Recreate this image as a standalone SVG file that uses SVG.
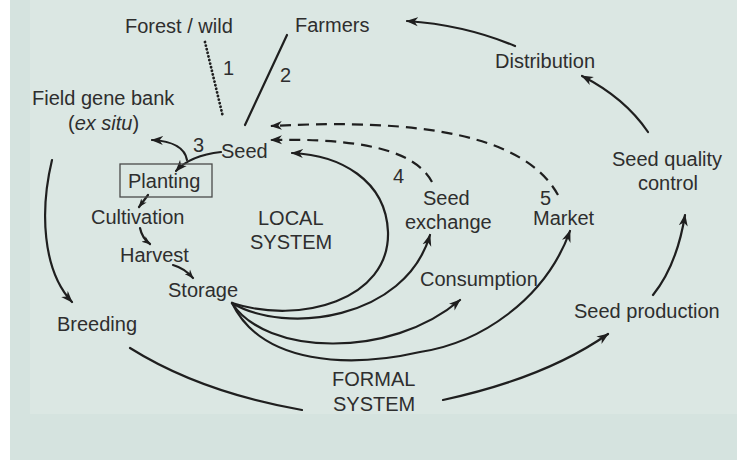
<svg xmlns="http://www.w3.org/2000/svg" width="737" height="460" viewBox="0 0 737 460">
  <style>
    .lbl { font-family: "Liberation Sans", Arial, sans-serif; font-size: 20px; fill: #2e2e2e; }
    .ln { fill: none; stroke: #1f1f1f; stroke-width: 2.2; stroke-linecap: round; }
    .dash { stroke-dasharray: 11 7; stroke-linecap: butt; }
    .dot { stroke-dasharray: 0.1 3.6; stroke-width: 2.8; }
    .box { fill: none; stroke: #4a4a4a; stroke-width: 1.3; }
  </style>
  <defs>
    <marker id="head" viewBox="0 0 12 10" refX="11" refY="5" markerUnits="userSpaceOnUse" markerWidth="12" markerHeight="10" orient="auto">
      <path d="M0,0.5 L12,5 L0,9.5 L3.5,5 Z" fill="#1f1f1f"/>
    </marker>
    <marker id="headS" viewBox="0 0 12 10" refX="11" refY="5" markerUnits="userSpaceOnUse" markerWidth="9" markerHeight="8" orient="auto">
      <path d="M0,0.5 L12,5 L0,9.5 L3.5,5 Z" fill="#1f1f1f"/>
    </marker>
  </defs>

  <!-- paper -->
  <rect x="0" y="0" width="737" height="460" fill="#ffffff"/>
  <rect x="10" y="0" width="727" height="460" fill="#d5e3df"/>
  <rect x="30" y="0" width="707" height="414" fill="#dbe7e3"/>

  <!-- connectors -->
  <g id="connectors">
    <!-- sources into seed -->
    <path class="ln dot" d="M205,42 L223,117"/>
    <path class="ln" d="M287,35 L245,125"/>
    <!-- local cycle -->
    <path class="ln" d="M221,152 C203,154 186,160 176,171" marker-end="url(#head)"/>
    <path class="ln" d="M187,160 C185,149 174,141 152,140" marker-end="url(#head)"/>
    <path class="ln" d="M148,195 L139,207" marker-end="url(#headS)"/>
    <path class="ln" d="M140,228 Q142,238 150,244" marker-end="url(#headS)"/>
    <path class="ln" d="M173,265 Q184,268 193,278" marker-end="url(#headS)"/>
    <!-- from storage -->
    <path class="ln" d="M232,303 C300,325 390,300 388,232 C386,180 340,155 292,153" marker-end="url(#head)"/>
    <path class="ln" d="M232,303 C285,335 405,320 430,235" marker-end="url(#head)"/>
    <path class="ln" d="M232,303 C265,355 390,360 460,300" marker-end="url(#head)"/>
    <path class="ln" d="M232,303 C262,365 350,368 420,352 C480,343 545,300 570,231" marker-end="url(#head)"/>
    <!-- dashed returns -->
    <path class="ln dash" d="M432,182 C415,150 360,138 271,140" marker-end="url(#head)"/>
    <path class="ln dash" d="M558,195 C525,135 420,118 271,126" marker-end="url(#head)"/>
    <!-- formal cycle -->
    <path class="ln" d="M52,160 C40,210 42,270 72,302" marker-end="url(#head)"/>
    <path class="ln" d="M130,348 Q200,392 302,410"/>
    <path class="ln" d="M443,400 Q545,378 608,334" marker-end="url(#head)"/>
    <path class="ln" d="M653,295 Q677,265 685,215" marker-end="url(#head)"/>
    <path class="ln" d="M648,132 Q625,98 582,76" marker-end="url(#head)"/>
    <path class="ln" d="M515,46 Q465,25 407,21" marker-end="url(#head)"/>
  </g>

  <!-- path numbers -->
  <g id="numbers">
    <text class="lbl" x="223" y="75">1</text>
    <text class="lbl" x="280" y="82">2</text>
    <text class="lbl" x="193" y="152">3</text>
    <text class="lbl" x="393" y="183">4</text>
    <text class="lbl" x="540" y="205">5</text>
  </g>

  <!-- nodes -->
  <g id="forest"><text class="lbl" x="125" y="33">Forest / wild</text></g>
  <g id="farmers"><text class="lbl" x="295" y="32">Farmers</text></g>
  <g id="distribution"><text class="lbl" x="495" y="68">Distribution</text></g>
  <g id="genebank">
    <text class="lbl" x="32" y="105">Field gene bank</text>
    <text class="lbl" x="68" y="130">(<tspan font-style="italic">ex situ</tspan>)</text>
  </g>
  <g id="seed"><text class="lbl" x="221" y="158">Seed</text></g>
  <g id="planting">
    <rect class="box" x="120" y="164" width="92" height="33"/>
    <text class="lbl" x="128" y="188">Planting</text>
  </g>
  <g id="cultivation"><text class="lbl" x="91" y="224">Cultivation</text></g>
  <g id="harvest"><text class="lbl" x="120" y="262">Harvest</text></g>
  <g id="storage"><text class="lbl" x="168" y="297">Storage</text></g>
  <g id="local">
    <text class="lbl" x="258" y="225">LOCAL</text>
    <text class="lbl" x="250" y="249">SYSTEM</text>
  </g>
  <g id="exchange">
    <text class="lbl" x="423" y="205">Seed</text>
    <text class="lbl" x="405" y="229">exchange</text>
  </g>
  <g id="market"><text class="lbl" x="533" y="225">Market</text></g>
  <g id="consumption"><text class="lbl" x="420" y="286">Consumption</text></g>
  <g id="quality">
    <text class="lbl" x="612" y="166">Seed quality</text>
    <text class="lbl" x="638" y="190">control</text>
  </g>
  <g id="production"><text class="lbl" x="574" y="318">Seed production</text></g>
  <g id="breeding"><text class="lbl" x="57" y="331">Breeding</text></g>
  <g id="formal">
    <text class="lbl" x="332" y="386">FORMAL</text>
    <text class="lbl" x="333" y="411">SYSTEM</text>
  </g>
</svg>
